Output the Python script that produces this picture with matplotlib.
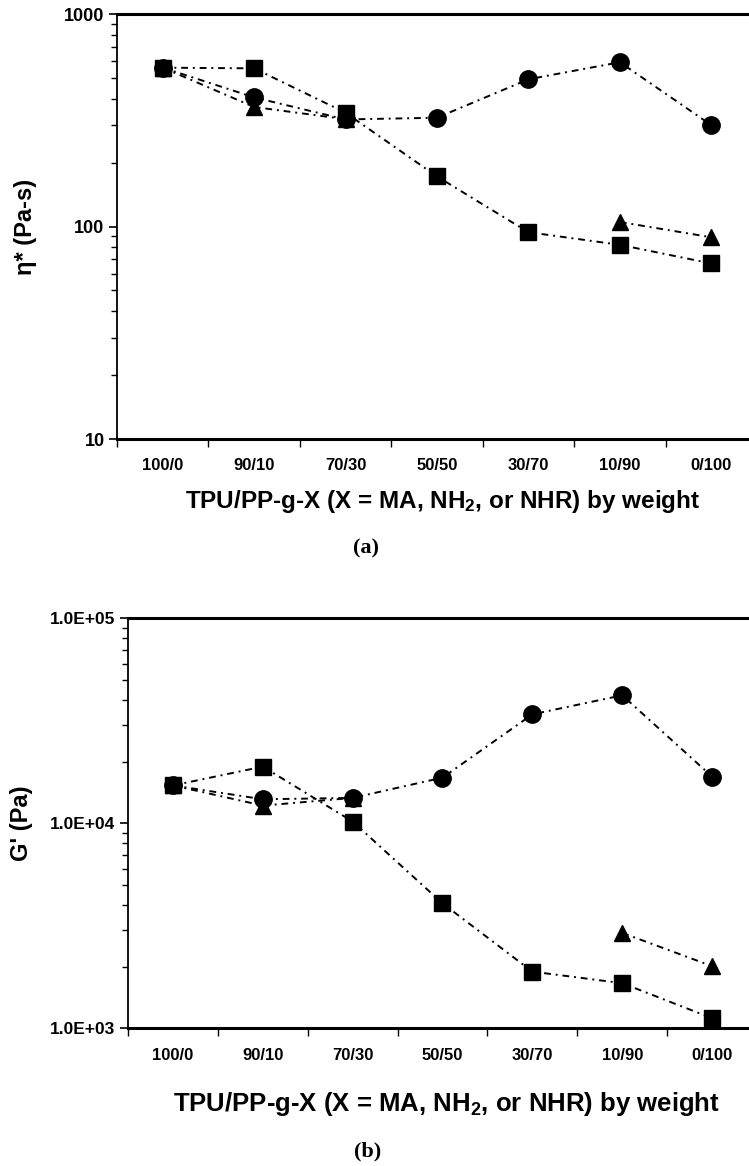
import numpy as np
import matplotlib
matplotlib.use("Agg")
import matplotlib.pyplot as plt
from matplotlib.ticker import LogLocator, NullFormatter, FixedLocator

plt.rcParams['font.family'] = ['Liberation Sans', 'DejaVu Sans']
plt.rcParams['font.weight'] = 'bold'
plt.rcParams['mathtext.fontset'] = 'custom'
plt.rcParams['mathtext.rm'] = 'Liberation Sans:bold'
plt.rcParams['mathtext.it'] = 'Liberation Sans:bold'
plt.rcParams['mathtext.default'] = 'rm'

# blend ratios TPU/PP-g-X
blends = ['100/0', '90/10', '70/30', '50/50', '30/70', '10/90', '0/100']

# (a) complex viscosity eta* (Pa-s)
eta_circle = [559, 405, 319, 325, 493, 593, 300]
eta_square = [559, 555, 343, 172, 94, 82, 67]
eta_triangle = [559, 365, 320, np.nan, np.nan, 105, 89]

# (b) storage modulus G' (Pa)
g_circle = [15300, 13100, 13300, 16700, 34000, 42100, 16900]
g_square = [15300, 18900, 10200, 4070, 1890, 1660, 1120]
g_triangle = [15300, 12200, 13300, np.nan, np.nan, 2920, 2010]

xlabel = r'TPU/PP-g-X (X = MA, NH$_2$, or NHR) by weight'

x = np.arange(len(blends))
line_kw = dict(color='black', linewidth=1.4, dashes=(3.5, 2.5, 1, 2.5),
               markeredgecolor='black', markerfacecolor='black')

fig = plt.figure(figsize=(7.49, 11.66), dpi=100)


def draw_panel(ax, circ, sq, tri, ylim, yticks, yticklabels, ytick_size, ylabel, xlabel_size):
    ax.plot(x, sq, marker='s', markersize=11, **line_kw)
    ax.plot(x, tri, marker='^', markersize=11.5, **line_kw)
    ax.plot(x, circ, marker='o', markersize=12.5, **line_kw)
    ax.set_yscale('log')
    ax.set_ylim(*ylim)
    ax.set_xlim(-0.5, len(blends) - 0.5)
    ax.set_yticks(yticks)
    ax.set_yticklabels(yticklabels, fontsize=ytick_size, fontweight='bold')
    ax.yaxis.set_minor_locator(LogLocator(base=10, subs=np.arange(2, 10)))
    ax.yaxis.set_minor_formatter(NullFormatter())
    ax.tick_params(axis='y', which='major', length=6, width=1.2, direction='out', pad=3)
    ax.tick_params(axis='y', which='minor', length=4, width=1.0, direction='out')
    # category boundaries as ticks, labels centred between them
    ax.xaxis.set_major_locator(FixedLocator(np.arange(len(blends) + 1) - 0.5))
    ax.xaxis.set_major_formatter(NullFormatter())
    ax.xaxis.set_minor_locator(FixedLocator(x))
    ax.set_xticklabels(blends, minor=True, fontsize=12, fontweight='bold')
    ax.tick_params(axis='x', which='major', length=6, width=1.0, direction='out')
    ax.tick_params(axis='x', which='minor', length=0, pad=14)
    ax.spines['right'].set_visible(False)
    ax.spines['top'].set_linewidth(2.2)
    ax.spines['bottom'].set_linewidth(2.2)
    ax.spines['left'].set_linewidth(1.3)
    ax.set_ylabel(ylabel, fontsize=17, fontweight='bold')
    ax.set_xlabel(xlabel, fontsize=xlabel_size, fontweight='bold')


ax1 = fig.add_axes([117 / 749, 1 - 439 / 1166, 640 / 749, 425 / 1166])
draw_panel(ax1, eta_circle, eta_square, eta_triangle, (10, 1000),
           [10, 100, 1000], ['10', '100', '1000'], 13, 'η* (Pa-s)', 17.5)
ax1.yaxis.set_label_coords(-0.125, 0.5)
ax1.xaxis.set_label_coords(0.508, -0.116)

ax2 = fig.add_axes([128 / 749, 1 - 1028.3 / 1166, 629 / 749, 410 / 1166])
draw_panel(ax2, g_circle, g_square, g_triangle, (1e3, 1e5),
           [1e3, 1e4, 1e5], ['1.0E+03', '1.0E+04', '1.0E+05'], 12.5, "G' (Pa)", 18.5)
ax2.yaxis.set_label_coords(-0.151, 0.5)
ax2.xaxis.set_label_coords(0.506, -0.15)

fig.text(366 / 749, 1 - 548 / 1166, '(a)', fontsize=16, fontweight='bold',
         family='Liberation Serif', ha='center', va='center')
fig.text(368 / 749, 1 - 1151 / 1166, '(b)', fontsize=16, fontweight='bold',
         family='Liberation Serif', ha='center', va='center')

fig.savefig('out.png', dpi=100)
